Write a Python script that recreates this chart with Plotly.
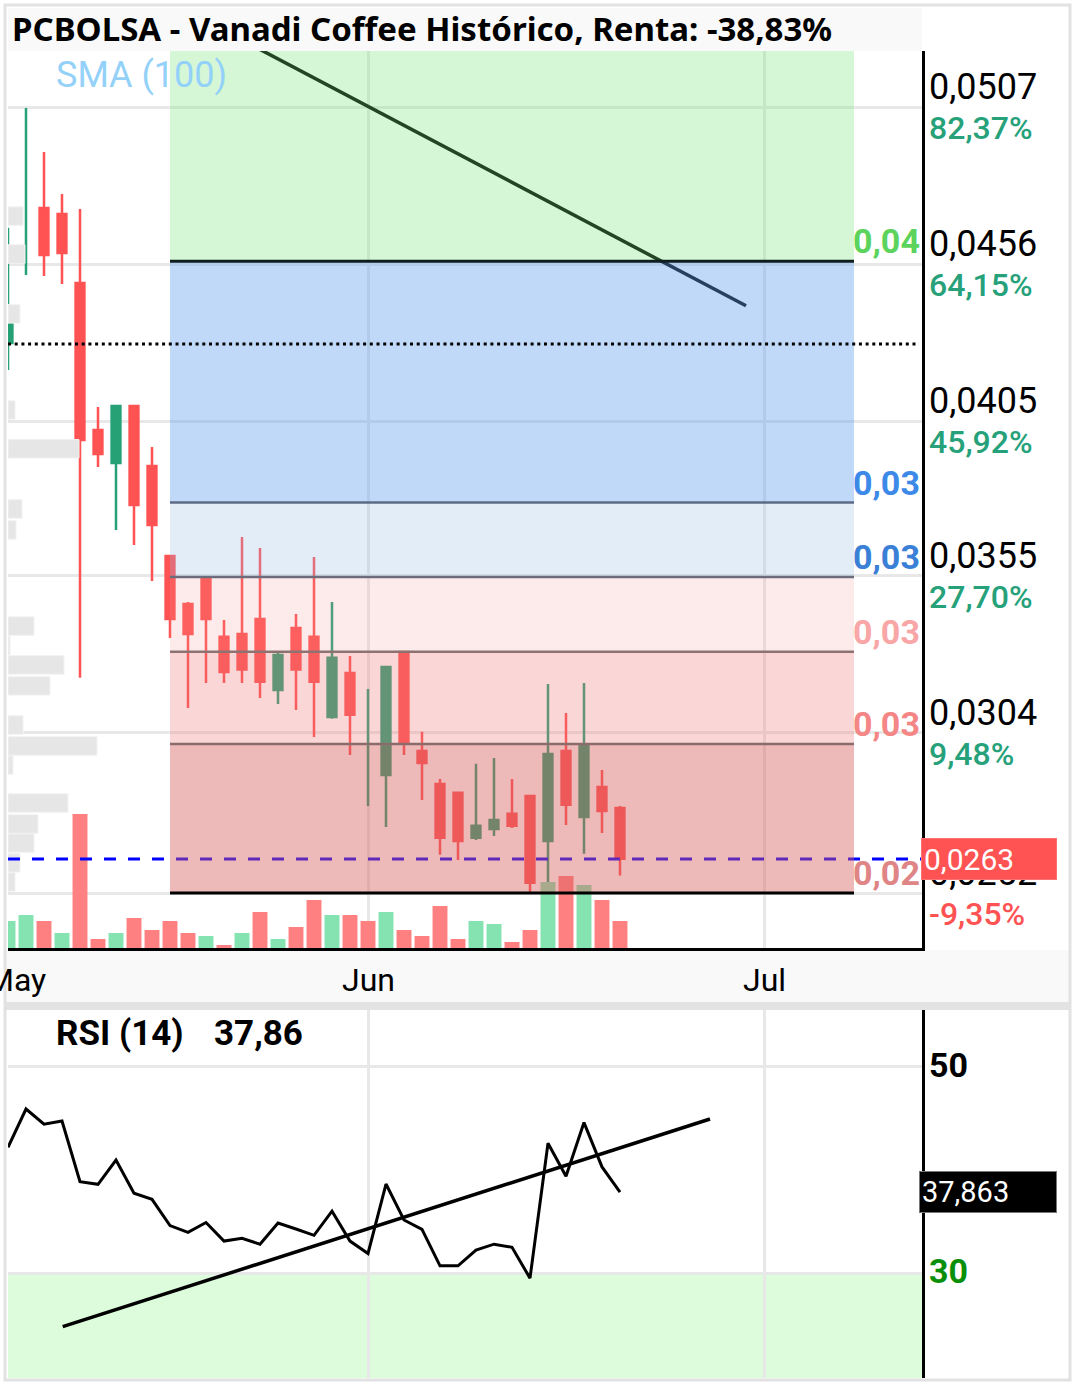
import plotly.graph_objects as go

# ---------------- data ----------------
idx = list(range(35))
opens = [0.04304, 0.04530, 0.04742, 0.04723, 0.04499, 0.04022, 0.03915, 0.04100, 0.03905, 0.03613,
         0.03458, 0.03539, 0.03351, 0.03360, 0.03409, 0.03179, 0.03380, 0.03351, 0.03091, 0.03234,
         0.02990, 0.02903, 0.03302, 0.02981, 0.02874, 0.02845, 0.02699, 0.02728, 0.02777, 0.02835,
         0.02689, 0.02981, 0.02767, 0.02864, 0.02796]
highs = [0.04678, 0.05067, 0.04924, 0.04788, 0.04739, 0.04097, 0.04100, 0.04100, 0.03967, 0.03613,
         0.03464, 0.03539, 0.03406, 0.03675, 0.03639, 0.03299, 0.03425, 0.03610, 0.03464, 0.03289,
         0.03182, 0.03253, 0.03302, 0.03043, 0.02890, 0.02845, 0.02939, 0.02958, 0.02890, 0.02835,
         0.03198, 0.03104, 0.03201, 0.02919, 0.02802]
lows = [0.04217, 0.04525, 0.04522, 0.04496, 0.03218, 0.03902, 0.03698, 0.03649, 0.03532, 0.03347,
        0.03120, 0.03201, 0.03201, 0.03201, 0.03153, 0.03133, 0.03114, 0.03026, 0.03085, 0.02968,
        0.02802, 0.02734, 0.02968, 0.02822, 0.02644, 0.02627, 0.02692, 0.02705, 0.02731, 0.02520,
        0.02536, 0.02741, 0.02647, 0.02715, 0.02577]
closes = [0.04402, 0.04530, 0.04590, 0.04596, 0.03990, 0.03944, 0.04100, 0.03779, 0.03714, 0.03409,
          0.03360, 0.03409, 0.03237, 0.03245, 0.03205, 0.03292, 0.03245, 0.03205, 0.03283, 0.03098,
          0.02990, 0.03253, 0.03010, 0.02942, 0.02699, 0.02689, 0.02738, 0.02757, 0.02738, 0.02553,
          0.02971, 0.02806, 0.03000, 0.02786, 0.02631]
volume = [67.5, 82.5, 67.5, 37.5, 335, 22.5, 37.5, 75, 45, 67.5,
          37.5, 30, 7.5, 37.5, 90, 22.5, 52.5, 120, 82.5, 82.5,
          67.5, 90, 45, 30, 105, 22.5, 67.5, 60, 15, 45,
          165, 180, 157.5, 120, 67.5]
volume_up = [1, 1, 0, 1, 0, 0, 1, 0, 0, 0, 0, 1, 0, 1, 0, 1, 0, 0, 1, 0,
             0, 1, 0, 0, 0, 0, 1, 1, 0, 0, 1, 0, 1, 0, 0]
rsi = [42.2, 45.92, 44.44, 44.76, 38.87, 38.61, 40.97, 37.74, 37.15, 34.6,
       33.95, 34.9, 33.1, 33.37, 32.8, 34.85, 34.27, 33.66, 36.0, 33.1,
       31.9, 38.64, 35.15, 34.24, 30.7, 30.7, 32.23, 32.8, 32.5, 29.5,
       42.6, 39.4, 44.6, 40.3, 37.86]

# volume by price profile
profile_price = [0.04716, 0.04593, 0.04399, 0.04087, 0.03961, 0.03766, 0.03698, 0.03386, 0.03322, 0.03260,
                 0.03192, 0.03065, 0.02997, 0.02935, 0.02812, 0.02744, 0.02682, 0.02618, 0.02556]
profile_vol = [150, 170, 120, 70, 710, 140, 80, 260, 20, 560,
               420, 150, 890, 50, 600, 300, 260, 120, 70]

# price axis ticks
price_ticks = [0.0507, 0.0456, 0.0405, 0.0355, 0.0304, 0.0252]
price_tick_text = ["0,0507", "0,0456", "0,0405", "0,0355", "0,0304", "0,0252"]
pct_text = ["82,37%", "64,15%", "45,92%", "27,70%", "9,48%", "-9,35%"]
last_price = 0.0263
last_price_text = "0,0263"
sma_level = 0.04301

# month ticks (trading-day index)
month_pos = [0.45, 20, 42]
month_text = ["May", "Jun", "Jul"]

# Fibonacci retracement
fib_low, fib_high = 0.0252, 0.0457
fib_start, fib_end = 9, 47
fib_ratios = [0, 0.236, 0.382, 0.5, 0.618, 1.0]
fib_labels = ["0,02", "0,03", "0,03", "0,03", "0,03", "0,04"]
fib_label_colors = ["#e08585", "#f48686", "#f8a6a6", "#3a80d6", "#3d89e8", "#5cd35c"]
fib_line_colors = ["#000000", "#8a6c6c", "#8e7272", "#6c6c7c", "#5b6b86", "#0d1d1d"]
fib_zone_fills = ["rgba(216,96,96,0.44)", "rgba(240,120,120,0.30)", "rgba(245,150,150,0.20)",
                  "rgba(150,190,230,0.27)", "rgba(100,160,240,0.40)"]
fib_top_fill = "rgba(120,230,120,0.30)"

# trend lines
price_trend_x = [5, 41]
price_trend_y = [0.05534, 0.04425]
rsi_trend_x = [3.04, 39]
rsi_trend_y = [24.79, 44.95]

# RSI levels
rsi_levels = [50, 30]
rsi_last_text = "37,863"

# ---------------- geometry helpers ----------------
W, H = 1076, 1385
L, R = 8, 922
PW = R - L
Y_LO, Y_HI = 0.023416, 0.052517


def px(X):
    return (X - L) / PW


def py(Y):
    return 1 - Y / H


GREEN = "#26a175"
RED = "#ff5252"

# split dojis (open == close) so they are drawn as a bare high-low line
is_doji = [o == c for o, c in zip(opens, closes)]
not_doji = [not d for d in is_doji]


def mask(arr, keep):
    return [v if k else None for v, k in zip(arr, keep)]


fig = go.Figure()

fig.add_trace(go.Bar(x=profile_vol, y=profile_price, orientation="h", width=0.0006,
                     marker=dict(color="#e6e6e6", line=dict(color="#f2f2f2", width=1)),
                     xaxis="x3", yaxis="y", hoverinfo="skip", showlegend=False))

fig.add_trace(go.Bar(x=idx, y=volume, width=0.83,
                     marker=dict(color=["#84e3b0" if u else "#ff8080" for u in volume_up], line=dict(width=0)),
                     xaxis="x", yaxis="y3", hoverinfo="skip", showlegend=False))

fig.add_trace(go.Candlestick(x=idx, open=mask(opens, not_doji), high=mask(highs, not_doji),
                             low=mask(lows, not_doji), close=mask(closes, not_doji),
                             increasing=dict(line=dict(color=GREEN, width=2.5), fillcolor=GREEN),
                             decreasing=dict(line=dict(color=RED, width=2.5), fillcolor=RED),
                             whiskerwidth=0, xaxis="x", yaxis="y", showlegend=False))
fig.add_trace(go.Ohlc(x=idx, open=mask(opens, is_doji), high=mask(highs, is_doji),
                      low=mask(lows, is_doji), close=mask(closes, is_doji), tickwidth=0,
                      increasing=dict(line=dict(color=GREEN, width=2.5)),
                      decreasing=dict(line=dict(color=GREEN, width=2.5)),
                      xaxis="x", yaxis="y", showlegend=False))

fig.add_trace(go.Scatter(x=price_trend_x, y=price_trend_y, mode="lines",
                         line=dict(color="#000000", width=3.5), xaxis="x", yaxis="y", showlegend=False))

fig.add_trace(go.Scatter(x=idx, y=rsi, mode="lines", line=dict(color="#000000", width=3),
                         xaxis="x2", yaxis="y2", showlegend=False))
fig.add_trace(go.Scatter(x=rsi_trend_x, y=rsi_trend_y, mode="lines", line=dict(color="#000000", width=3.5),
                         xaxis="x2", yaxis="y2", showlegend=False))

shapes = []
# background bands
shapes.append(dict(type="rect", xref="paper", yref="paper", x0=px(8), x1=px(922), y0=py(51), y1=py(8),
                   fillcolor="#f9f9f9", line=dict(width=0), layer="below"))
shapes.append(dict(type="rect", xref="paper", yref="paper", x0=px(5), x1=px(1070), y0=py(1002), y1=py(950),
                   fillcolor="#f9f9f9", line=dict(width=0), layer="below"))
shapes.append(dict(type="rect", xref="paper", yref="paper", x0=px(5), x1=px(1070), y0=py(1010), y1=py(1002),
                   fillcolor="#e3e3e3", line=dict(width=0), layer="below"))
# RSI oversold zone
shapes.append(dict(type="rect", xref="paper", yref="y2", x0=0, x1=1, y0=0, y1=30,
                   fillcolor="#dcfcdc", line=dict(width=0), layer="below"))

# last price dashed line (under fib zones)
shapes.append(dict(type="line", xref="paper", yref="y", x0=0, x1=1, y0=last_price, y1=last_price,
                   line=dict(color="#0000ff", width=3, dash="12px,12px"), layer="above"))

# fib zones
levels = [fib_low + r * (fib_high - fib_low) for r in fib_ratios]
for k in range(len(levels) - 1):
    shapes.append(dict(type="rect", xref="x", yref="y", x0=fib_start, x1=fib_end,
                       y0=levels[k], y1=levels[k + 1], fillcolor=fib_zone_fills[k],
                       line=dict(width=0), layer="above"))
shapes.append(dict(type="rect", xref="x", yref="y domain", x0=fib_start, x1=fib_end,
                   y0=(levels[-1] - Y_LO) / (Y_HI - Y_LO), y1=1, fillcolor=fib_top_fill,
                   line=dict(width=0), layer="above"))
for k, lv in enumerate(levels):
    w = 3 if k in (0, len(levels) - 1) else 2.5
    shapes.append(dict(type="line", xref="x", yref="y", x0=fib_start, x1=fib_end, y0=lv, y1=lv,
                       line=dict(color=fib_line_colors[k], width=w), layer="above"))

# SMA dotted level
shapes.append(dict(type="line", xref="paper", yref="y", x0=0, x1=0.995, y0=sma_level, y1=sma_level,
                   line=dict(color="#000000", width=3, dash="3px,3.7px"), layer="above"))

# outer border
shapes.append(dict(type="rect", xref="paper", yref="paper", x0=px(5), x1=px(1070), y0=py(1380), y1=py(5),
                   line=dict(color="#e2e2e2", width=3), fillcolor="rgba(0,0,0,0)", layer="above"))

ann = []
ann.append(dict(xref="paper", yref="paper", x=px(10), y=py(29), xanchor="left", yanchor="middle",
                text="<b>PCBOLSA - Vanadi Coffee Histórico, Renta: -38,83%</b>", showarrow=False,
                font=dict(family="Noto Sans", size=33, color="#000000")))
ann.append(dict(xref="paper", yref="paper", x=px(54), y=py(75), xanchor="left", yanchor="middle",
                text="SMA (100)", showarrow=False, font=dict(family="Roboto", size=36, color="#93d1f9")))

for v, t, p in zip(price_ticks, price_tick_text, pct_text):
    ann.append(dict(xref="paper", yref="y", x=px(927), y=v, xanchor="left", yanchor="middle", yshift=20,
                    text=t, showarrow=False, font=dict(family="Roboto", size=36, color="#000000")))
    ann.append(dict(xref="paper", yref="y", x=px(927), y=v, xanchor="left", yanchor="middle", yshift=-21,
                    text=p, showarrow=False,
                    font=dict(family="Roboto", size=32, weight=500,
                              color=RED if p.startswith("-") else "#26a17a")))

ann.append(dict(xref="paper", yref="y", x=px(921), y=last_price, xanchor="left", yanchor="middle",
                text=last_price_text, showarrow=False, bgcolor="#ff5252", bordercolor="#ff7070",
                borderwidth=1, borderpad=2, width=130, height=36, align="left",
                font=dict(family="Roboto", size=30, color="#ffffff")))

for lv, t, c in zip(levels, fib_labels, fib_label_colors):
    ann.append(dict(xref="paper", yref="y", x=1.0, y=lv, xanchor="right", yanchor="middle", yshift=20,
                    text="<b>" + t + "</b>", showarrow=False, font=dict(family="Roboto", size=34, color=c)))

for mp, mt in zip(month_pos, month_text):
    ann.append(dict(xref="x", yref="paper", x=mp, y=py(980), xanchor="center", yanchor="middle",
                    text=mt, showarrow=False, font=dict(family="Roboto", size=32, color="#000000")))

ann.append(dict(xref="paper", yref="paper", x=px(54), y=py(1033), xanchor="left", yanchor="middle",
                text="<b>RSI (14)</b>", showarrow=False, font=dict(family="Roboto", size=35, color="#000000")))
ann.append(dict(xref="paper", yref="paper", x=px(212), y=py(1033), xanchor="left", yanchor="middle",
                text="<b>37,86</b>", showarrow=False, font=dict(family="Roboto", size=35, color="#000000")))

ann.append(dict(xref="paper", yref="y2", x=px(927), y=rsi_levels[0], xanchor="left", yanchor="middle",
                yshift=2, text="<b>50</b>", showarrow=False, font=dict(family="Roboto", size=34, color="#000000")))
ann.append(dict(xref="paper", yref="y2", x=px(927), y=rsi_levels[1], xanchor="left", yanchor="middle",
                yshift=2, text="<b>30</b>", showarrow=False, font=dict(family="Roboto", size=34, color="#0a8f0a")))
ann.append(dict(xref="paper", yref="y2", x=px(919), y=rsi[-1] - 0.006, xanchor="left", yanchor="middle",
                text=rsi_last_text, showarrow=False, bgcolor="#000000", bordercolor="#777777",
                borderwidth=1, borderpad=2, width=132, height=36, align="left",
                font=dict(family="Roboto", size=29, color="#ffffff")))

grid = dict(showgrid=True, gridcolor="#e8e8e8", gridwidth=3, zeroline=False)
xr = [0, PW / 18]

fig.update_layout(
    width=W, height=H, margin=dict(l=L, r=W - R, t=0, b=0),
    paper_bgcolor="#ffffff", plot_bgcolor="#ffffff", showlegend=False,
    shapes=shapes, annotations=ann, hovermode=False,
    xaxis=dict(domain=[0, 1], range=xr, anchor="y", tickvals=month_pos[1:], showticklabels=False, ticks="",
               showline=True, linecolor="#000000", linewidth=3, rangeslider=dict(visible=False), **grid),
    xaxis2=dict(domain=[0, 1], range=xr, anchor="y2", tickvals=month_pos[1:], showticklabels=False, ticks="",
                showline=False, **grid),
    xaxis3=dict(overlaying="x", anchor="y", range=[0, 9140], visible=False),
    yaxis=dict(domain=[py(948), py(51)], range=[Y_LO, Y_HI], anchor="x", side="right",
               tickvals=price_ticks, showticklabels=False, ticks="", showline=True, linecolor="#000000",
               linewidth=3, **grid),
    yaxis2=dict(domain=[py(1378), py(1010)], range=[19.81, 55.53], anchor="x2", side="right",
                tickvals=rsi_levels, showticklabels=False, ticks="", showline=True, linecolor="#000000",
                linewidth=3, **grid),
    yaxis3=dict(overlaying="y", anchor="x", range=[0, 2242.5], visible=False),
)

fig.write_html("out.html", config={"displayModeBar": False},
               post_script="document.body.style.margin='0';")
